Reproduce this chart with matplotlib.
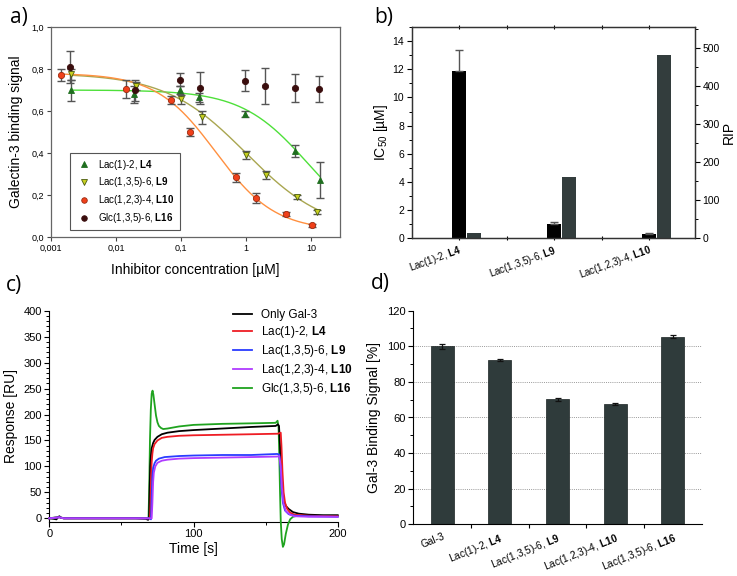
import numpy as np
import matplotlib
matplotlib.use('Agg')
import matplotlib.pyplot as plt
from matplotlib.ticker import FixedLocator, FixedFormatter, MultipleLocator, NullLocator
from matplotlib.lines import Line2D

plt.rcParams['font.family'] = ['Liberation Sans', 'DejaVu Sans']
plt.rcParams['mathtext.fontset'] = 'custom'
plt.rcParams['mathtext.rm'] = 'Liberation Sans'
plt.rcParams['mathtext.bf'] = 'Liberation Sans:bold'
plt.rcParams['mathtext.it'] = 'Liberation Sans:italic'

# ---------------- Panel a data ----------------
a_l4_x = [0.002, 0.019, 0.096, 0.19, 0.98, 5.7, 13.7]
a_l4_y = [0.70, 0.68, 0.70, 0.665, 0.585, 0.41, 0.27]
a_l4_err = [0.05, 0.04, 0.02, 0.02, 0.015, 0.03, 0.085]
a_l9_x = [0.002, 0.02, 0.1, 0.21, 1.0, 2.0, 6.0, 12.5]
a_l9_y = [0.775, 0.72, 0.655, 0.57, 0.39, 0.295, 0.19, 0.12]
a_l9_err = [0.025, 0.02, 0.02, 0.03, 0.02, 0.02, 0.01, 0.01]
a_l10_x = [0.00143, 0.0143, 0.07, 0.14, 0.70, 1.41, 4.2, 10.4]
a_l10_y = [0.772, 0.705, 0.653, 0.50, 0.285, 0.185, 0.108, 0.055]
a_l10_err = [0.028, 0.045, 0.02, 0.02, 0.022, 0.025, 0.01, 0.006]
a_l16_x = [0.00196, 0.0196, 0.098, 0.195, 0.98, 1.97, 5.7, 13.3]
a_l16_y = [0.81, 0.70, 0.75, 0.71, 0.745, 0.72, 0.71, 0.705]
a_l16_err = [0.075, 0.05, 0.032, 0.075, 0.05, 0.085, 0.065, 0.063]
# sigmoidal fit parameters: (top, bottom, IC50, hill slope)
a_fit_l4 = (0.70, 0.0, 9.0, 0.85)
a_fit_l9 = (0.78, 0.02, 1.0, 0.70)
a_fit_l10 = (0.78, 0.03, 0.342, 0.95)
a_names = ['Lac(1)-2, $\\mathbf{L4}$', 'Lac(1,3,5)-6, $\\mathbf{L9}$',
           'Lac(1,2,3)-4, $\\mathbf{L10}$', 'Glc(1,3,5)-6, $\\mathbf{L16}$']
a_xticks = [0.001, 0.01, 0.1, 1, 10]
a_xticklabels = ['0,001', '0,01', '0,1', '1', '10']
a_yticks = [0.0, 0.2, 0.4, 0.6, 0.8, 1.0]
a_yticklabels = ['0,0', '0,2', '0,4', '0,6', '0,8', '1,0']

# ---------------- Panel b data ----------------
b_labels = ['Lac(1)-2, $\\mathbf{L4}$', 'Lac(1,3,5)-6, $\\mathbf{L9}$', 'Lac(1,2,3)-4, $\\mathbf{L10}$']
b_ic50 = [11.9, 1.0, 0.32]
b_ic50_err = [1.5, 0.15, 0.05]
b_rip = [14, 162, 481]

# ---------------- Panel c data ----------------
c_gal3_t = [0, 3, 5, 6, 7, 8, 10, 20, 40, 60, 67, 68.5, 69.2, 69.6, 70, 70.5, 71, 72, 73, 75, 78, 82, 90, 100,
            120, 140, 157, 158.5, 159.3, 160, 160.7, 161.5, 162.5, 164, 166, 169, 173, 180, 190, 200]
c_gal3_r = [0, -1, -2, 2, 4, 1, 0, 0, 0, 0, -1, -3, 0, 60, 100, 122, 135, 145, 151, 157, 162, 165, 168, 170,
            173, 176, 178, 181, 178, 140, 90, 55, 35, 24, 18, 12, 9, 7, 6, 6]
c_l4_t = [0, 7, 10, 40, 69.8, 70.2, 70.6, 71, 71.5, 72, 73, 75, 78, 82, 90, 100, 120, 140, 158.5, 159.5, 160.5,
          161, 161.7, 162.5, 163.5, 165, 167, 170, 180, 200]
c_l4_r = [0, 2, 0, 0, 0, 30, 80, 108, 125, 135, 143, 150, 155, 157, 159, 160, 161, 162, 163, 164, 165,
          140, 90, 50, 30, 18, 11, 7, 5, 4]
c_l9_t = [0, 7, 10, 70, 70.5, 71, 71.5, 72, 73, 74, 76, 80, 90, 100, 120, 140, 158, 159.5, 160.3, 161, 162,
          163.5, 166, 170, 180, 200]
c_l9_r = [0, 2, 0, 0, -2, 40, 80, 97, 106, 111, 115, 118, 120, 121, 122, 122, 124, 123, 100, 60, 30,
          15, 8, 5, 4, 3]
c_l10_t = [0, 7, 10, 71, 71.5, 72, 72.5, 73.5, 75, 78, 82, 90, 100, 120, 140, 158, 159.5, 160.5, 161.3, 162.3,
           164, 167, 170, 180, 200]
c_l10_r = [0, 2, 0, 0, 30, 70, 88, 100, 107, 111, 113, 115, 116, 117, 118, 119, 120, 100, 60, 30,
           14, 7, 4, 3, 3]
c_l16_t = [0, 7, 10, 40, 68.8, 69.3, 69.8, 70.4, 71, 71.6, 72.2, 73, 74, 75, 76, 77.5, 79, 82, 90, 100, 120,
           140, 157, 158.3, 159, 159.5, 160, 160.5, 161.2, 162, 162.8, 164, 165.5, 167, 169, 172, 180, 200]
c_l16_r = [0, 3, 0, 0, 0, 60, 150, 210, 240, 246, 238, 220, 198, 185, 178, 174, 172, 173, 177, 180, 182,
           183, 184, 188, 175, 120, 50, -5, -40, -55, -50, -30, -12, -2, 3, 5, 5, 5]
c_names = ['Only Gal-3', 'Lac(1)-2, $\\mathbf{L4}$', 'Lac(1,3,5)-6, $\\mathbf{L9}$',
           'Lac(1,2,3)-4, $\\mathbf{L10}$', 'Glc(1,3,5)-6, $\\mathbf{L16}$']

# ---------------- Panel d data ----------------
d_labels = ['Gal-3', 'Lac(1)-2, $\\mathbf{L4}$', 'Lac(1,3,5)-6, $\\mathbf{L9}$',
            'Lac(1,2,3)-4, $\\mathbf{L10}$', 'Lac(1,3,5)-6, $\\mathbf{L16}$']
d_vals = [100.0, 92.3, 70.2, 67.5, 105.3]
d_err = [1.4, 0.8, 0.9, 0.5, 0.8]

W, H = 737, 576
fig = plt.figure(figsize=(W / 100, H / 100), dpi=100)


def rect(l, t, r, b):
    return [l / W, 1 - b / H, (r - l) / W, (b - t) / H]


def logistic(x, p):
    top, bot, c, h = p
    return bot + (top - bot) / (1 + (x / c) ** h)


panel_font = dict(family=['Open Sans', 'DejaVu Sans'], fontsize=15)

# ================= Panel a =================
axa = fig.add_axes(rect(51, 27, 340, 237))
axa.set_xscale('log')
axa.set_xlim(0.001, 28)
axa.set_ylim(0, 1.0)
ecol = '#555555'
series = [
    (a_l4_x, a_l4_y, a_l4_err, a_fit_l4, '^', '#1f6e1f', '#1f6e1f', '#4ee03a'),
    (a_l9_x, a_l9_y, a_l9_err, a_fit_l9, 'v', '#c8d020', '#4a5a10', '#a9a650'),
    (a_l10_x, a_l10_y, a_l10_err, a_fit_l10, 'o', '#f0401a', '#9a2a10', '#ff9040'),
    (a_l16_x, a_l16_y, a_l16_err, None, 'o', '#3a0d0d', '#3a0d0d', None),
]
handles = []
for (xs, ys, es, fit, mk, fc, ec, lc), name in zip(series, a_names):
    if fit is not None:
        xx = np.logspace(np.log10(min(xs)), np.log10(max(xs)), 300)
        axa.plot(xx, logistic(xx, fit), color=lc, lw=1.0, zorder=2)
    axa.errorbar(xs, ys, yerr=es, fmt='none', ecolor=ecol, elinewidth=1.0, capsize=3, capthick=1.0, zorder=3)
    axa.plot(xs, ys, linestyle='none', marker=mk, ms=4.5, mfc=fc, mec=ec, mew=0.6, zorder=4)
    handles.append(Line2D([], [], linestyle='none', marker=mk, ms=4, mfc=fc, mec=ec, mew=0.6))
axa.xaxis.set_major_locator(FixedLocator(a_xticks))
axa.xaxis.set_major_formatter(FixedFormatter(a_xticklabels))
axa.xaxis.set_minor_locator(NullLocator())
axa.yaxis.set_major_locator(FixedLocator(a_yticks))
axa.yaxis.set_major_formatter(FixedFormatter(a_yticklabels))
axa.tick_params(labelsize=6.5, length=3, width=0.8, color='#444444', pad=2)
for s in axa.spines.values():
    s.set_color('#666666')
    s.set_linewidth(0.9)
axa.set_xlabel('Inhibitor concentration [µM]', fontsize=10, labelpad=7)
axa.set_ylabel('Galectin-3 binding signal', fontsize=10, labelpad=6)
leg = axa.legend(handles, a_names, loc='lower left', bbox_to_anchor=(0.066, 0.033), borderaxespad=0,
                 fontsize=7, fancybox=False, edgecolor='#555555', framealpha=1, handletextpad=0.6,
                 labelspacing=0.4, borderpad=0.5, handlelength=1.8)
leg.get_frame().set_linewidth(0.8)
fig.text(10 / W, 1 - 17 / H, 'a)', va='center', ha='left', **panel_font)

# ================= Panel b =================
axb = fig.add_axes(rect(411.7, 27, 695, 238.3))
axb2 = axb.twinx()
xb = np.arange(len(b_labels))
bw = 0.15
axb.bar(xb, b_ic50, width=bw, color='#000000', zorder=2)
axb.errorbar(xb, b_ic50, yerr=[[0] * len(b_ic50), b_ic50_err], fmt='none', ecolor='#555555',
             elinewidth=1.0, capsize=3, capthick=1.0, zorder=3)
axb2.bar(xb + bw + 0.005, b_rip, width=bw, color='#333d3d', zorder=2)
axb.set_xlim(-0.5, 2.48)
axb.set_ylim(0, 15)
axb2.set_ylim(0, 555)
axb.yaxis.set_major_locator(MultipleLocator(2))
axb.yaxis.set_minor_locator(MultipleLocator(1))
axb2.yaxis.set_major_locator(MultipleLocator(100))
axb2.yaxis.set_minor_locator(MultipleLocator(50))
axb.set_xticks(xb)
axb.set_xticklabels(b_labels, rotation=20, ha='right', rotation_mode='anchor', fontsize=7)
axb.xaxis.set_minor_locator(FixedLocator([0.5, 1.5]))
axb.tick_params(axis='x', which='both', length=3, width=0.8, pad=2, bottom=True, top=True, direction='inout')
axb.tick_params(axis='y', which='major', labelsize=7.5, length=3.5, width=0.8, pad=2)
axb.tick_params(axis='y', which='minor', length=2, width=0.7)
axb2.tick_params(axis='y', which='major', labelsize=7.5, length=3.5, width=0.8, pad=2)
axb2.tick_params(axis='y', which='minor', length=2, width=0.7)
for a in (axb, axb2):
    for s in a.spines.values():
        s.set_color('#333333')
        s.set_linewidth(0.9)
axb.set_ylabel('IC$_{50}$ [µM]', fontsize=10, labelpad=2)
axb2.set_ylabel('RIP', fontsize=10, labelpad=1)
fig.text(374 / W, 1 - 17 / H, 'b)', va='center', ha='left', **panel_font)

# ================= Panel c =================
axc = fig.add_axes(rect(49.3, 310.7, 337.7, 521.7))
c_series = [
    (c_l16_t, c_l16_r, '#1fa31f'),
    (c_gal3_t, c_gal3_r, '#000000'),
    (c_l4_t, c_l4_r, '#ee1c24'),
    (c_l9_t, c_l9_r, '#2a3cff'),
    (c_l10_t, c_l10_r, '#b03cff'),
]
for t, r, col in c_series:
    axc.plot(t, r, color=col, lw=1.3, clip_on=False, zorder=3)
axc.set_xlim(0, 200)
axc.set_ylim(-6.5, 400)
axc.spines['top'].set_visible(False)
axc.spines['right'].set_visible(False)
axc.yaxis.set_major_locator(MultipleLocator(50))
axc.yaxis.set_minor_locator(MultipleLocator(10))
axc.xaxis.set_major_locator(MultipleLocator(100))
axc.xaxis.set_minor_locator(MultipleLocator(50))
axc.tick_params(which='major', labelsize=8, length=3.5, width=0.8, pad=2)
axc.tick_params(which='minor', length=2, width=0.7)
axc.set_xlabel('Time [s]', fontsize=10, labelpad=2)
axc.set_ylabel('Response [RU]', fontsize=10, labelpad=4)
leg_handles = [Line2D([], [], color=c, lw=1.3) for c in ['#000000', '#ee1c24', '#2a3cff', '#b03cff', '#1fa31f']]
axc.legend(leg_handles, c_names, loc='upper left', bbox_to_anchor=(0.62, 1.03), frameon=False,
           fontsize=8.5, handlelength=1.6, handletextpad=0.8, labelspacing=0.25, borderaxespad=0)
fig.text(6 / W, 1 - 285 / H, 'c)', va='center', ha='left', **panel_font)

# ================= Panel d =================
axd = fig.add_axes(rect(413.3, 310.7, 701.7, 524.3))
xd = np.arange(len(d_labels))
axd.bar(xd, d_vals, width=0.4, color='#2f3b3b', edgecolor='#1a2222', linewidth=0.5, zorder=2)
axd.errorbar(xd, d_vals, yerr=d_err, fmt='none', ecolor='#111111', elinewidth=0.9, capsize=2.5,
             capthick=0.9, zorder=3)
axd.set_xlim(-0.5, 4.5)
axd.set_ylim(0, 120)
for gy in [20, 40, 60, 80, 100]:
    axd.axhline(gy, color='#999999', lw=0.7, ls=(0, (1, 1.2)), zorder=1)
axd.spines['top'].set_visible(False)
axd.spines['right'].set_visible(False)
axd.yaxis.set_major_locator(MultipleLocator(20))
axd.yaxis.set_minor_locator(MultipleLocator(10))
axd.set_xticks(xd)
axd.set_xticklabels(d_labels, rotation=22, ha='right', rotation_mode='anchor', fontsize=7.3)
axd.xaxis.set_minor_locator(FixedLocator([0.5, 1.5, 2.5, 3.5]))
axd.tick_params(axis='x', which='major', length=0, pad=5)
axd.tick_params(axis='x', which='minor', length=3, width=0.8)
axd.tick_params(axis='y', which='major', labelsize=8, length=3.5, width=0.8, pad=2)
axd.tick_params(axis='y', which='minor', length=2, width=0.7)
axd.set_ylabel('Gal-3 Binding Signal [%]', fontsize=10, labelpad=4)
fig.text(371 / W, 1 - 283 / H, 'd)', va='center', ha='left', **panel_font)

fig.savefig('out.png', dpi=100)
